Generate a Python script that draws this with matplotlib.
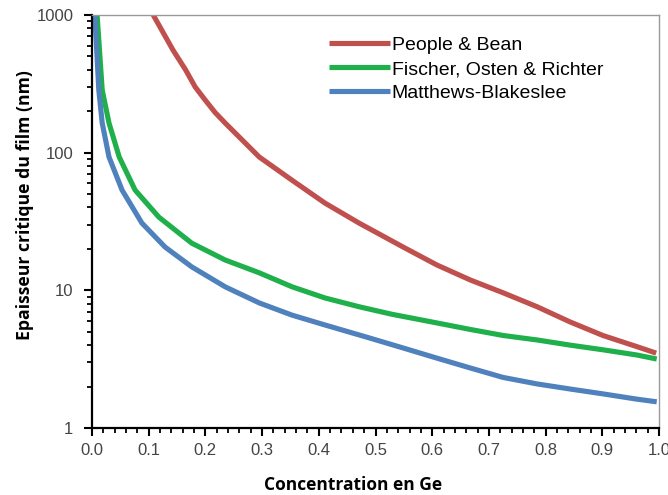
import numpy as np
import matplotlib.pyplot as plt
from matplotlib.ticker import MultipleLocator, LogLocator, FixedLocator, NullFormatter

# Données
x_pb = [0.108, 0.125, 0.143, 0.165, 0.182, 0.200, 0.217, 0.235, 0.295, 0.353, 0.411, 0.471,
        0.549, 0.608, 0.667, 0.725, 0.785, 0.843, 0.901, 0.961, 0.995]
y_pb = [1000, 751, 555, 400, 300, 240, 196, 164, 93, 63, 43, 30.8,
        20.6, 15.3, 11.9, 9.6, 7.6, 5.9, 4.7, 3.9, 3.5]

x_for = [0.009, 0.018, 0.030, 0.048, 0.076, 0.118, 0.176, 0.235, 0.295, 0.353,
         0.411, 0.471, 0.529, 0.608, 0.667, 0.725, 0.785, 0.843, 0.901, 0.961, 0.996]
y_for = [1000, 285, 164, 93, 53.5, 34, 22, 16.6, 13.4, 10.6,
         8.8, 7.6, 6.7, 5.8, 5.2, 4.7, 4.36, 4.0, 3.7, 3.39, 3.17]

x_mb = [0.005, 0.012, 0.018, 0.030, 0.053, 0.088, 0.129, 0.176, 0.235, 0.295,
        0.353, 0.411, 0.490, 0.549, 0.608, 0.667, 0.725, 0.785, 0.843, 0.901, 0.961, 0.996]
y_mb = [1000, 285, 164, 93, 53.5, 30.8, 20.6, 14.8, 10.6, 8.1,
        6.6, 5.6, 4.5, 3.81, 3.22, 2.73, 2.33, 2.09, 1.92, 1.77, 1.62, 1.55]

labels = ["People & Bean", "Fischer, Osten & Richter", "Matthews-Blakeslee"]
couleurs = ["#C0504D", "#1FAF4B", "#4F81BD"]

x_ticks = [0.0, 0.1, 0.2, 0.3, 0.4, 0.5, 0.6, 0.7, 0.8, 0.9, 1.0]
y_ticks = [1, 10, 100, 1000]

fig = plt.figure(figsize=(6.68, 4.95), dpi=100)
ax = fig.add_axes([92 / 668, 1 - 428 / 495, 567 / 668, 413 / 495])

series = [(x_pb, y_pb), (x_for, y_for), (x_mb, y_mb)]
for (xs, ys), lab, c in zip(series, labels, couleurs):
    ax.plot(xs, ys, color=c, lw=3.7, label=lab, solid_capstyle="butt",
            solid_joinstyle="round")

ax.set_yscale("log")
ax.set_xlim(0, 1)
ax.set_ylim(1, 1000)

ax.xaxis.set_major_locator(FixedLocator(x_ticks))
ax.set_xticklabels([f"{v:.1f}" for v in x_ticks])
ax.xaxis.set_minor_locator(MultipleLocator(0.02))
ax.yaxis.set_major_locator(FixedLocator(y_ticks))
ax.set_yticklabels([str(v) for v in y_ticks])
ax.yaxis.set_minor_locator(LogLocator(base=10, subs=np.arange(2, 10)))
ax.yaxis.set_minor_formatter(NullFormatter())

ax.tick_params(which="major", length=6, width=1.5, color="black",
               labelsize=12, labelcolor="#444444", direction="out")
ax.tick_params(which="minor", length=3.8, width=1.3, color="black", direction="out")
ax.tick_params(axis="x", which="major", pad=5)
ax.tick_params(axis="y", which="major", pad=7.5)
for lab in ax.get_xticklabels() + ax.get_yticklabels():
    lab.set_family("Liberation Sans")

ax.spines["left"].set_linewidth(1.6)
ax.spines["bottom"].set_linewidth(1.6)
ax.spines["top"].set_color("#999999")
ax.spines["right"].set_color("#999999")
ax.spines["top"].set_linewidth(1.0)
ax.spines["right"].set_linewidth(1.0)

leg = ax.legend(loc="upper left", bbox_to_anchor=(0.388, 0.99), frameon=False,
                handlelength=3.1, handletextpad=0.1, labelspacing=0.32,
                prop={"family": "Liberation Sans", "size": 14})

fig.text(353 / 668, 1 - 485 / 495, "Concentration en Ge", ha="center", va="center",
         family="Open Sans", fontweight="bold", fontsize=12.5)
fig.text(25 / 668, 1 - 205 / 495, "Epaisseur critique du film (nm)", ha="center", va="center",
         rotation=90, family="Open Sans", fontweight="bold", fontsize=12.7)

plt.savefig("out.png", dpi=100)
